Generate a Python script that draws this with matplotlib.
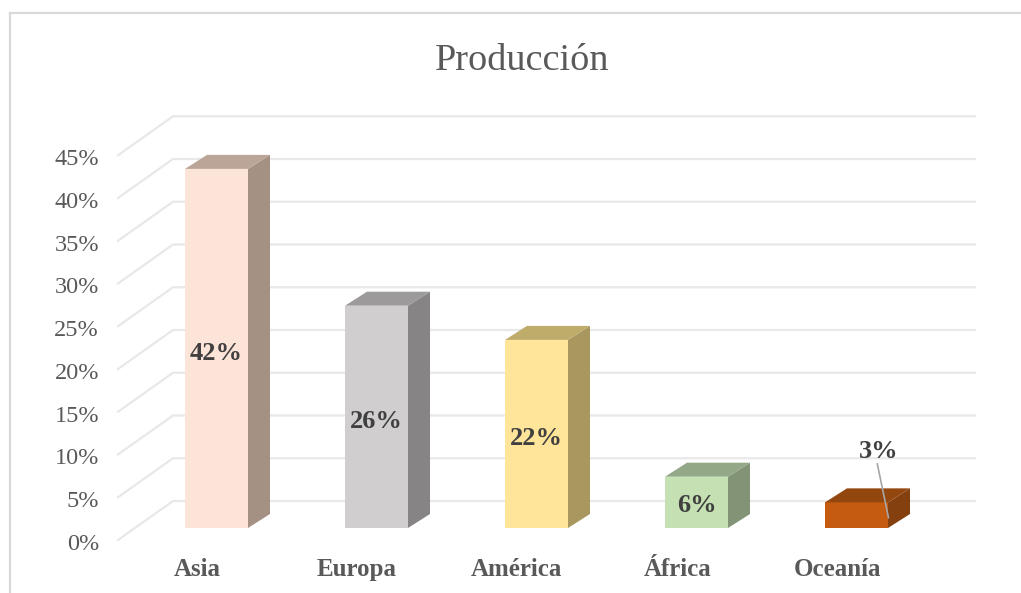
import matplotlib
matplotlib.use('Agg')
import matplotlib.pyplot as plt
from matplotlib.patches import Polygon

categories = ['Asia', 'Europa', 'América', 'África', 'Oceanía']
values = [42, 26, 22, 6, 3]
value_labels = ['42%', '26%', '22%', '6%', '3%']
tick_values = [0, 5, 10, 15, 20, 25, 30, 35, 40, 45]
tick_labels = ['0%', '5%', '10%', '15%', '20%', '25%', '30%', '35%', '40%', '45%']

front_colors = ['#FCE5D8', '#D0CECE', '#FFE599', '#C5E0B3', '#C55A11']
side_colors = ['#A59184', '#868484', '#A8975F', '#829475', '#84400F']
top_colors = ['#BBA598', '#9C9A9A', '#BFAC6B', '#93A886', '#93470F']

PX_X = 160.0   # pixels per category
PX_Y = 8.55    # pixels per percent
W, H = 1021, 593
X0, Y0 = 216.5, 528   # pixel of category 0 / value 0 on the bar front

bar_w = 63 / PX_X
dep_x = 22 / PX_X
dep_y = 14 / PX_Y

fig = plt.figure(figsize=(W / 100, H / 100), dpi=100)
ax = fig.add_axes([0, 0, 1, 1])
ax.set_xlim(-X0 / PX_X, (W - X0) / PX_X)
ax.set_ylim(-(H - Y0) / PX_Y, Y0 / PX_Y)
ax.axis('off')

plt.rcParams['font.family'] = ['Liberation Serif', 'DejaVu Serif']

# chart frame, only left and top are visible in the crop
ax.plot([-206 / PX_X, -206 / PX_X], [-(H - Y0) / PX_Y, 515 / PX_Y], color='#D9D9D9', lw=1.6)
ax.plot([-206 / PX_X, (W - X0) / PX_X], [515 / PX_Y, 515 / PX_Y], color='#D9D9D9', lw=1.6)

# gridlines on floor side and back wall
grid_front_x = (118 - X0) / PX_X
grid_back_x = (173 - X0) / PX_X
grid_end_x = (975 - X0) / PX_X
grid_front_dy = -12 / PX_Y
grid_back_dy = 27 / PX_Y
for t, lab in zip(tick_values, tick_labels):
    ax.plot([grid_front_x, grid_back_x, grid_end_x],
            [t + grid_front_dy, t + grid_back_dy, t + grid_back_dy],
            color='#E8E8E8', lw=1.6, zorder=1, solid_joinstyle='miter')
    ax.text((99 - X0) / PX_X, t + grid_front_dy - 0.5, lab, ha='right', va='center',
            fontsize=17.5, color='#595959')

# the 3d bars
for i, v in enumerate(values):
    l = i - bar_w / 2
    r = i + bar_w / 2
    ax.add_patch(Polygon([(l, 0), (r, 0), (r, v), (l, v)], fc=front_colors[i], ec='none', zorder=3))
    ax.add_patch(Polygon([(r, 0), (r + dep_x, dep_y), (r + dep_x, v + dep_y), (r, v)],
                         fc=side_colors[i], ec='none', zorder=3))
    ax.add_patch(Polygon([(l, v), (r, v), (r + dep_x, v + dep_y), (l + dep_x, v + dep_y)],
                         fc=top_colors[i], ec='none', zorder=3))

# value labels
label_shift = [-0.6, -0.6, -0.5, -0.4]
for i in range(4):
    ax.text(i, values[i] / 2 + label_shift[i], value_labels[i], ha='center', va='center',
            fontsize=19, fontweight='bold', color='#404040', zorder=5)
ax.text(4.14, 9.0, value_labels[4], ha='center', va='center',
        fontsize=19, fontweight='bold', color='#404040', zorder=5)
ax.plot([4.13, 4.2], [7.5, 1.2], color='#A6A6A6', lw=1.2, zorder=5)

# category labels, shifted left of the bars like the original
label_x = [197, 357, 516, 678, 837]
for x, name in zip(label_x, categories):
    ax.text((x - X0) / PX_X, (Y0 - 576) / PX_Y, name, ha='center', va='baseline',
            fontsize=18, fontweight='bold', color='#595959')

ax.text((522 - X0) / PX_X, (Y0 - 70) / PX_Y, 'Producción', ha='center', va='baseline',
        fontsize=27.5, color='#595959')

fig.savefig('out.png', dpi=100)
